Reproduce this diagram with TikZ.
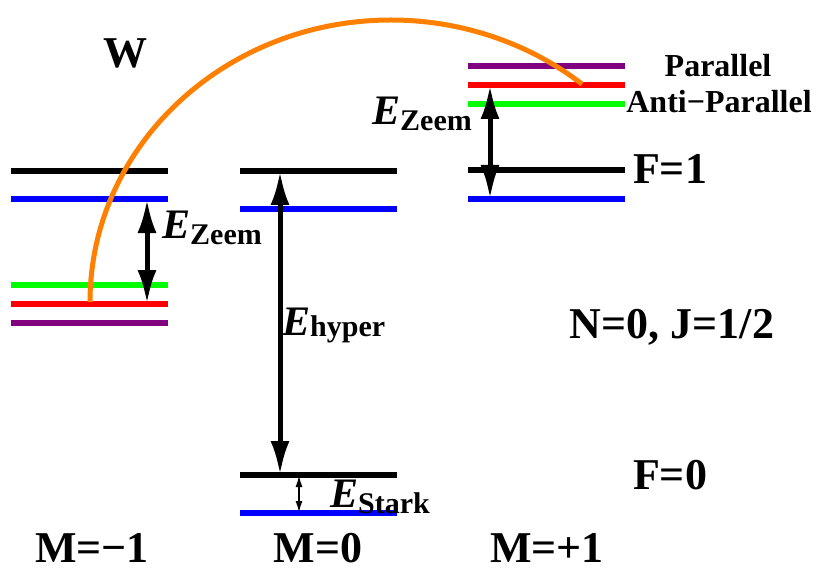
\documentclass[tikz,border=0pt]{standalone}
\usepackage{fontspec}
\setmainfont{Liberation Serif}
\usetikzlibrary{arrows.meta}
\definecolor{LevelGreen}{RGB}{0,255,0}
\definecolor{LevelPurple}{RGB}{128,0,128}
\definecolor{BeamOrange}{RGB}{255,128,0}
\newcommand{\bigfont}{\fontsize{44}{50}\selectfont\bfseries}
\newcommand{\Esub}[2][-6pt]{{\fontsize{42}{48}\selectfont\bfseries\itshape E}\raisebox{#1}{\fontsize{30}{34}\selectfont\bfseries #2}}

\begin{document}
\begin{tikzpicture}[x=1pt,y=-1pt,>=Latex,
  level/.style={line width=5.5pt},
  gap/.style={line width=5pt,{Latex[length=34pt,width=19pt]}-{Latex[length=34pt,width=19pt]}},
  lab/.style={inner sep=0pt,font=\bigfont,anchor=base},
  elab/.style={inner sep=0pt,anchor=base west}]
  \useasboundingbox (0,0) rectangle (818,569);
  % levels: left end/height/colour
  \foreach \xa/\yy/\cc in {11/171/black,11/199/blue,11/285/LevelGreen,11/304/red,11/323/LevelPurple,
      240/171/black,240/209/blue,240/475/black,240/513/blue,
      468/66/LevelPurple,468/85/red,468/104/LevelGreen,468/170/black,468/199/blue}
    \draw[level,\cc] (\xa,\yy) -- ++(157,0);
  % splittings
  \coordinate (zl-a) at (147,199); \coordinate (zl-b) at (147,304);
  \coordinate (hf-a) at (280,171); \coordinate (hf-b) at (280,475);
  \coordinate (st-a) at (299,475); \coordinate (st-b) at (299,513);
  \coordinate (zr-a) at (490,85);  \coordinate (zr-b) at (490,199);
  \draw[gap] (zl-a) -- (zl-b);
  \draw[gap] (hf-a) -- (hf-b);
  \draw[gap] (zr-a) -- (zr-b);
  \draw[line width=1.8pt,{Latex[length=12pt,width=7pt]}-{Latex[length=12pt,width=7pt]}] (st-a) -- (st-b);
  % transition
  \coordinate (w-start) at (90,302);
  \draw[BeamOrange,line width=5pt] (w-start)
    arc[start angle=180,end angle=50.6,x radius=301pt,y radius=282pt] coordinate (w-end);
  \node[elab] (ez-l) at (162,238) {\Esub{Zeem}};
  \node[elab] (ez-r) at (372,125) {\Esub{Zeem}};
  \node[elab] (eh) at (282,335) {\Esub[-1pt]{hyper}};
  \node[elab] (es) at (330,507) {\Esub{Stark}};
  \node[lab] (w) at (125,68) {W};
  \node[lab,font=\fontsize{32}{36}\selectfont\bfseries] (par) at (718,77) {Parallel};
  \node[lab,font=\fontsize{32}{36}\selectfont\bfseries] (anti) at (719,113) {Anti−Parallel};
  \node[lab] (f1) at (670,184) {F=1};
  \node[lab] (nj) at (672,338) {N=0, J=1/2};
  \node[lab] (f0) at (670,489) {F=0};
  \node[lab] (mneg) at (92,562) {M=−1};
  \node[lab] (mzero) at (318,562) {M=0};
  \node[lab] (mpos) at (547,562) {M=+1};
\end{tikzpicture}
\end{document}
